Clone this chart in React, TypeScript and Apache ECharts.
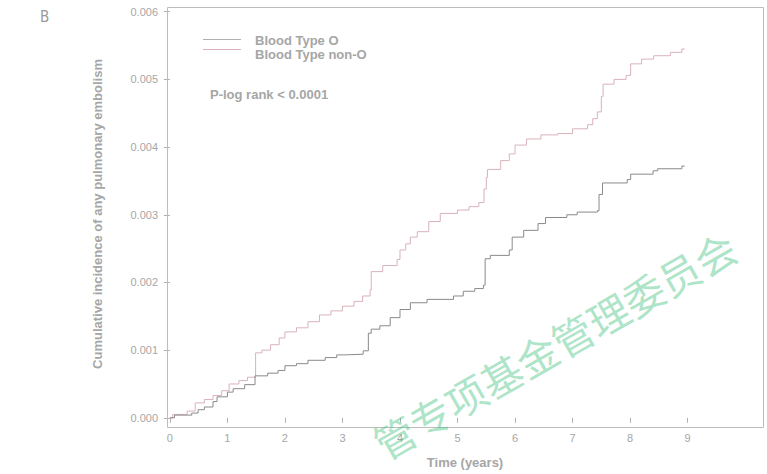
import React, { useEffect, useRef } from "react";
import * as echarts from "echarts";

// ---- data ----
const xTicks = [0, 1, 2, 3, 4, 5, 6, 7, 8, 9];
const yTicks = [0, 0.001, 0.002, 0.003, 0.004, 0.005, 0.006];

const seriesNames = ["Blood Type O", "Blood Type non-O"];

const timeO = [
  0, 0.08, 0.38, 0.49, 0.6, 0.75, 0.82, 1.0, 1.1, 1.3, 1.48, 1.7, 1.88, 2.0, 2.2, 2.4, 2.7, 2.9, 3.05,
  3.36, 3.45, 3.5, 3.65, 3.83, 4.0, 4.18, 4.47, 4.93, 5.1, 5.3, 5.45, 5.48, 5.57, 5.9, 5.95, 6.15, 6.4,
  6.53, 6.9, 7.08, 7.43, 7.46, 7.52, 7.95, 8.01, 8.4, 8.48, 8.9, 8.95,
];
const cumO = [
  0, 0.00004, 0.00007, 0.00012, 0.00016, 0.00024, 0.00031, 0.00038, 0.00043, 0.00049, 0.00062, 0.00066,
  0.0007, 0.00077, 0.0008, 0.00085, 0.00089, 0.00093, 0.00094, 0.00099, 0.00125, 0.00131, 0.00136,
  0.00148, 0.0016, 0.0017, 0.00175, 0.0018, 0.00187, 0.00191, 0.00196, 0.00235, 0.0024, 0.00248, 0.00267,
  0.00277, 0.00287, 0.00296, 0.003, 0.00304, 0.00306, 0.0033, 0.00347, 0.00352, 0.0036, 0.00365, 0.00368,
  0.00372, 0.00372,
];

const timeNonO = [
  0, 0.05, 0.3, 0.44, 0.6, 0.75, 0.9, 1.03, 1.2, 1.35, 1.49, 1.6, 1.75, 1.9, 2.0, 2.2, 2.4, 2.6, 2.8, 3.0,
  3.2, 3.35, 3.48, 3.5, 3.7, 3.95, 4.0, 4.1, 4.18, 4.3, 4.5, 4.7, 5.0, 5.2, 5.37, 5.46, 5.5, 5.52, 5.75,
  5.9, 6.0, 6.2, 6.45, 6.74, 7.0, 7.26, 7.35, 7.43, 7.5, 7.53, 7.72, 7.93, 8.01, 8.2, 8.41, 8.7, 8.9, 8.95,
];
const cumNonO = [
  0, 0.00005, 0.0001, 0.00022, 0.00027, 0.00033, 0.0004, 0.0005, 0.00055, 0.0006, 0.00096, 0.001,
  0.00108, 0.00118, 0.00127, 0.00133, 0.00142, 0.00152, 0.00158, 0.00165, 0.00172, 0.0018, 0.00189,
  0.00216, 0.00225, 0.00234, 0.00248, 0.00257, 0.00267, 0.00275, 0.0029, 0.00302, 0.00307, 0.00312,
  0.00318, 0.00338, 0.00355, 0.00367, 0.0038, 0.0039, 0.00403, 0.00412, 0.00418, 0.0042, 0.00427,
  0.00433, 0.00442, 0.00452, 0.00475, 0.00493, 0.005, 0.00506, 0.00523, 0.0053, 0.00535, 0.0054,
  0.00545, 0.00545,
];

const panelLabel = "B";
const pValueText = "P-log rank < 0.0001";
const xAxisTitle = "Time (years)";
const yAxisTitle = "Cumulative incidence of any pulmonary embolism";
const watermarkText = "管专项基金管理委员会";

const colorO = "#8a8a8a";
const colorNonO = "#d9b2ba";
const textGray = "#a6a6a6";

const GRID_LEFT = 167;
const GRID_TOP = 7;
const GRID_W = 596;
const GRID_H = 420;

export default function App() {
  const ref = useRef<HTMLDivElement>(null);

  useEffect(() => {
    if (!ref.current) return;
    document.body.style.margin = "0";
    const chart = echarts.init(ref.current, undefined, { renderer: "svg" });
    const pairs = (t: number[], v: number[]) => t.map((x, i) => [x, v[i]]);
    const wmRot = 0.52;
    const wmSize = 41;

    chart.setOption({
      animation: false,
      backgroundColor: "#ffffff",
      textStyle: { fontFamily: "Liberation Sans, Arial, sans-serif" },
      grid: {
        left: GRID_LEFT,
        top: GRID_TOP,
        width: GRID_W,
        height: GRID_H,
        containLabel: false,
      },
      xAxis: {
        type: "value",
        min: -0.05,
        max: 10.31,
        name: xAxisTitle,
        nameLocation: "middle",
        nameGap: 35,
        nameTextStyle: { color: textGray, fontSize: 13, fontWeight: "bold" },
        axisLine: { show: false },
        splitLine: { show: false },
        axisTick: {
          show: true,
          customValues: xTicks,
          length: 5,
          lineStyle: { color: "#b0b0b0" },
        },
        axisLabel: {
          customValues: xTicks,
          color: textGray,
          fontSize: 11,
          margin: 11,
        },
      },
      yAxis: {
        type: "value",
        min: -0.000047,
        max: 0.00607,
        name: yAxisTitle,
        nameLocation: "middle",
        nameGap: 63,
        nameTextStyle: { color: textGray, fontSize: 13, fontWeight: "bold" },
        axisLine: { show: false },
        splitLine: { show: false },
        axisTick: {
          show: true,
          customValues: yTicks,
          length: 6,
          lineStyle: { color: "#b0b0b0" },
        },
        axisLabel: {
          customValues: yTicks,
          color: textGray,
          fontSize: 11,
          margin: 9,
          formatter: (v: number) => v.toFixed(3),
        },
      },
      series: [
        {
          name: seriesNames[0],
          type: "line",
          step: "end",
          symbol: "none",
          lineStyle: { color: colorO, width: 1 },
          data: pairs(timeO, cumO),
          z: 3,
        },
        {
          name: seriesNames[1],
          type: "line",
          step: "end",
          symbol: "none",
          lineStyle: { color: colorNonO, width: 1 },
          data: pairs(timeNonO, cumNonO),
          z: 2,
        },
      ],
      graphic: [
        {
          type: "rect",
          shape: { x: GRID_LEFT + 0.5, y: GRID_TOP + 0.5, width: GRID_W, height: GRID_H },
          style: { fill: "rgba(0,0,0,0)", stroke: "#bcbcbc", lineWidth: 1 },
          silent: true,
          z: 1,
        },
        {
          type: "text",
          x: 40,
          y: 9,
          style: { text: panelLabel, fill: "#9a9a9a", fontSize: 15, fontFamily: "DejaVu Sans Condensed, sans-serif" },
        },
        {
          type: "line",
          shape: { x1: 203, y1: 39.5, x2: 241, y2: 39.5 },
          style: { stroke: "#b0b0b0", lineWidth: 1 },
        },
        {
          type: "line",
          shape: { x1: 203, y1: 49.5, x2: 241, y2: 49.5 },
          style: { stroke: colorNonO, lineWidth: 1 },
        },
        {
          type: "text",
          x: 255,
          y: 40,
          style: {
            text: seriesNames[0],
            fill: textGray,
            fontSize: 13,
            fontWeight: "bold",
            fontFamily: "Liberation Sans, Arial, sans-serif",
            verticalAlign: "middle",
          },
        },
        {
          type: "text",
          x: 255,
          y: 54.5,
          style: {
            text: seriesNames[1],
            fill: textGray,
            fontSize: 13,
            fontWeight: "bold",
            fontFamily: "Liberation Sans, Arial, sans-serif",
            verticalAlign: "middle",
          },
        },
        {
          type: "text",
          x: 210,
          y: 94.5,
          style: {
            text: pValueText,
            fill: textGray,
            fontSize: 13,
            fontWeight: "bold",
            fontFamily: "Liberation Sans, Arial, sans-serif",
            verticalAlign: "middle",
          },
        },
        {
          type: "text",
          x: 394 - (wmSize / 2) * Math.cos(wmRot),
          y: 436 + (wmSize / 2) * Math.sin(wmRot),
          rotation: wmRot,
          z: 100,
          silent: true,
          style: {
            text: watermarkText,
            fill: "rgba(70, 195, 130, 0.45)",
            fontSize: wmSize,
            fontFamily: "Noto Sans CJK SC, sans-serif",
            verticalAlign: "middle",
            align: "left",
          },
        },
      ],
    });

    return () => chart.dispose();
  }, []);

  return <div ref={ref} style={{ width: 767, height: 474 }} />;
}
